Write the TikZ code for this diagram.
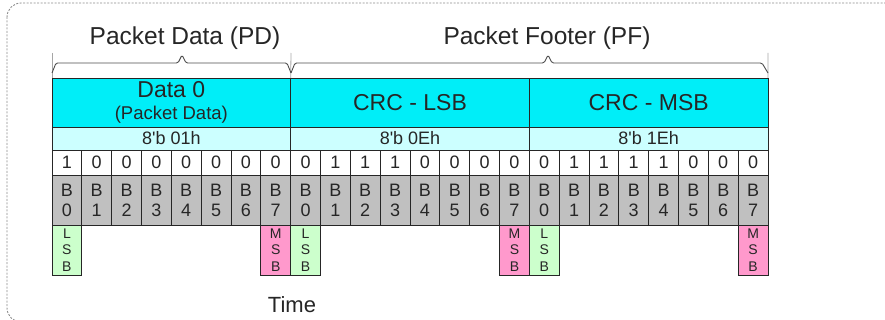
\documentclass[tikz,border=0pt]{standalone}
\usepackage{fontspec}
\setmainfont{Liberation Sans}
\usetikzlibrary{positioning,calc}

\definecolor{pdcyan}{RGB}{0,238,248}
\definecolor{pdlight}{RGB}{204,255,255}
\definecolor{bitgray}{RGB}{192,192,192}
\definecolor{lsbgreen}{RGB}{204,255,204}
\definecolor{msbpink}{RGB}{255,153,204}

\tikzset{
  cell/.style={draw=black!85, line width=0.9pt, inner sep=0pt, outer sep=0pt,
    anchor=north west, text=black!85},
  bytebox/.style={cell, fill=pdcyan, minimum width=238.67pt, minimum height=49pt,
    align=center, font=\fontsize{23}{23}\selectfont},
  hexbox/.style={cell, fill=pdlight, minimum width=238.67pt, minimum height=23pt,
    font=\fontsize{18}{18}\selectfont},
  bitbox/.style={cell, fill=white, minimum width=29.833pt, minimum height=25pt,
    font=\fontsize{18}{18}\selectfont},
  namebox/.style={cell, fill=bitgray, minimum width=29.833pt, minimum height=50pt,
    align=center, font=\fontsize{18}{20}\selectfont},
  sigbox/.style={cell, minimum width=29.833pt, minimum height=50pt,
    align=center, font=\fontsize{14}{16.5}\selectfont},
  brace/.style={draw=black!70, line width=0.9pt, rounded corners=1.5pt},
  tick/.style={draw=black!35, line width=0.8pt},
  heading/.style={anchor=base, text=black!85, font=\fontsize{24.5}{24.5}\selectfont}
}

\begin{document}
\begin{tikzpicture}[x=1pt, y=-1pt]
  \useasboundingbox (0,0) rectangle (885,320);
  \clip (0,0) rectangle (885,320);
  % dashed frame round the whole packet
  \draw[black!45, line width=0.9pt, dash pattern=on 2pt off 1.5pt, rounded corners=14pt]
    (7,3) rectangle (905,322);

  % byte fields
  \node[bytebox] (byte0) at (52,78) {Data 0\\[-1pt]{\fontsize{18.5}{18.5}\selectfont (Packet Data)}};
  \node[bytebox] (byte1) at (byte0.north east) {CRC - LSB};
  \node[bytebox] (byte2) at (byte1.north east) {CRC - MSB};
  \foreach \hex [count=\i from 0] in {01h,0Eh,1Eh}
    \node[hexbox] (hex\i) at (byte\i.south west) {8\textquotesingle b \hex};

  % bit values, LSB first
  \foreach \bit [count=\k from 0] in {1,0,0,0,0,0,0,0, 0,1,1,1,0,0,0,0, 0,1,1,1,1,0,0,0}
    \node[bitbox] (bit\k) at (52+\k*29.833,150) {\bit};
  \foreach \k in {0,...,23} {
    \pgfmathtruncatemacro\b{mod(\k,8)}
    \node[namebox] (name\k) at (bit\k.south west) {B\\\b};
  }

  % LSB / MSB markers
  \foreach \j in {0,1,2} {
    \pgfmathtruncatemacro\lo{8*\j}
    \pgfmathtruncatemacro\hi{8*\j+7}
    \node[sigbox, fill=lsbgreen] (lsb\j) at (name\lo.south west) {L\\S\\B};
    \node[sigbox, fill=msbpink] (msb\j) at (name\hi.south west) {M\\S\\B};
  }

  % braces over the fields
  \draw[tick] (52,53) -- (byte0.north west);
  \draw[tick] (291,53) -- (byte1.north west);
  \draw[tick] (768,53) -- (byte2.north east);
  \draw[brace] (52,73) -- (56,63) -- (178,63) -- (182,55) -- (186,63) -- (287,63) -- (291,73);
  \draw[brace] (291,73) -- (295,63) -- (544,63) -- (548,55) -- (552,63) -- (762,63) -- (768,73);
  \node[heading] (pdlabel) at (185,45) {Packet Data (PD)};
  \node[heading] (pflabel) at (547,45) {Packet Footer (PF)};

  \node[heading, font=\fontsize{22}{22}\selectfont] (timelabel) at (292,312) {Time};
\end{tikzpicture}
\end{document}
